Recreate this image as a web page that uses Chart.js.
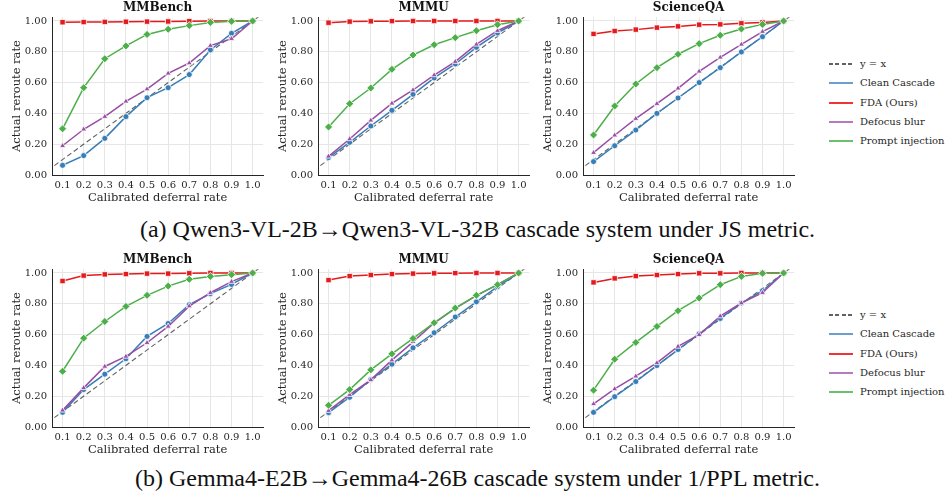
<!DOCTYPE html>
<html>
<head>
<meta charset="utf-8">
<script src="https://cdn.jsdelivr.net/npm/chart.js@4.4.1/dist/chart.umd.min.js"></script>
<style>
  html, body { margin: 0; padding: 0; background: #fff; }
  body { width: 946px; height: 496px; position: relative; overflow: hidden; }
  canvas.panel { position: absolute; }
  .caption { position: absolute; left: 0; width: 955px; text-align: center;
             font-family: "Liberation Serif", "Times New Roman", serif; font-size: 24px; color: #111; white-space: nowrap; }
  .legend { position: absolute; left: 829px; font-family: "DejaVu Serif", serif; font-size: 10px; color: #262626; }
  .legend .item { position: absolute; left: 0; height: 14px; white-space: nowrap; }
  .legend .swatch { position: absolute; left: 0; top: 6px; width: 24px; height: 2px; }
  .legend .label { position: absolute; left: 31px; top: 0; line-height: 14px; }
</style>
</head>
<body>
<script>
// ---------------- data ----------------
const deferralRates = [0.1, 0.2, 0.3, 0.4, 0.5, 0.6, 0.7, 0.8, 0.9, 1.0];
const yTickValues = [0.0, 0.2, 0.4, 0.6, 0.8, 1.0];
const panelTitles = ['MMBench', 'MMMU', 'ScienceQA'];
const seriesNames = ['Clean Cascade', 'FDA (Ours)', 'Defocus blur', 'Prompt injection'];
const refLineName = 'y = x';
const xAxisTitle = 'Calibrated deferral rate';
const yAxisTitle = 'Actual reroute rate';
const captions = [
  '(a) Qwen3-VL-2B\u2192Qwen3-VL-32B cascade system under JS metric.',
  '(b) Gemma4-E2B\u2192Gemma4-26B cascade system under 1/PPL metric.'
];

// (a) Qwen3-VL-2B -> Qwen3-VL-32B, JS metric
const qwenMMBenchClean   = [0.063, 0.126, 0.238, 0.379, 0.502, 0.567, 0.652, 0.812, 0.920, 1.000];
const qwenMMBenchFDA     = [0.992, 0.993, 0.994, 0.995, 0.996, 0.997, 0.999, 1.000, 1.000, 1.000];
const qwenMMBenchDefocus = [0.190, 0.297, 0.379, 0.478, 0.558, 0.660, 0.727, 0.840, 0.885, 1.000];
const qwenMMBenchPrompt  = [0.300, 0.567, 0.755, 0.838, 0.913, 0.946, 0.970, 0.991, 0.998, 1.000];

const qwenMMMUClean   = [0.113, 0.212, 0.318, 0.420, 0.524, 0.630, 0.721, 0.829, 0.922, 1.000];
const qwenMMMUFDA     = [0.989, 0.996, 0.998, 0.999, 1.000, 1.000, 1.000, 1.000, 1.000, 1.000];
const qwenMMMUDefocus = [0.121, 0.234, 0.355, 0.465, 0.552, 0.649, 0.736, 0.848, 0.937, 1.000];
const qwenMMMUPrompt  = [0.312, 0.463, 0.565, 0.686, 0.779, 0.846, 0.892, 0.937, 0.976, 1.000];

const qwenSQAClean   = [0.087, 0.190, 0.292, 0.400, 0.500, 0.600, 0.697, 0.799, 0.898, 1.000];
const qwenSQAFDA     = [0.916, 0.935, 0.944, 0.957, 0.965, 0.976, 0.978, 0.985, 0.991, 1.000];
const qwenSQADefocus = [0.145, 0.258, 0.366, 0.463, 0.563, 0.673, 0.764, 0.848, 0.931, 1.000];
const qwenSQAPrompt  = [0.260, 0.448, 0.591, 0.697, 0.784, 0.853, 0.907, 0.948, 0.978, 1.000];

// (b) Gemma4-E2B -> Gemma4-26B, 1/PPL metric
const gemmaMMBenchClean   = [0.095, 0.243, 0.343, 0.443, 0.588, 0.672, 0.794, 0.866, 0.926, 1.000];
const gemmaMMBenchFDA     = [0.948, 0.983, 0.991, 0.993, 0.996, 0.996, 0.998, 1.000, 1.000, 1.000];
const gemmaMMBenchDefocus = [0.108, 0.254, 0.393, 0.458, 0.547, 0.653, 0.785, 0.872, 0.944, 1.000];
const gemmaMMBenchPrompt  = [0.362, 0.577, 0.685, 0.783, 0.855, 0.915, 0.959, 0.978, 0.989, 1.000];

const gemmaMMMUClean   = [0.093, 0.193, 0.308, 0.408, 0.514, 0.612, 0.714, 0.813, 0.911, 1.000];
const gemmaMMMUFDA     = [0.954, 0.980, 0.987, 0.993, 0.996, 0.998, 0.999, 1.000, 1.000, 1.000];
const gemmaMMMUDefocus = [0.106, 0.210, 0.306, 0.434, 0.553, 0.675, 0.770, 0.853, 0.924, 1.000];
const gemmaMMMUPrompt  = [0.141, 0.243, 0.371, 0.475, 0.575, 0.677, 0.772, 0.855, 0.924, 1.000];

const gemmaSQAClean   = [0.095, 0.197, 0.295, 0.399, 0.503, 0.605, 0.705, 0.805, 0.885, 1.000];
const gemmaSQAFDA     = [0.939, 0.965, 0.980, 0.987, 0.993, 0.998, 0.998, 1.000, 1.000, 1.000];
const gemmaSQADefocus = [0.150, 0.247, 0.330, 0.416, 0.523, 0.599, 0.720, 0.805, 0.872, 1.000];
const gemmaSQAPrompt  = [0.239, 0.440, 0.549, 0.653, 0.755, 0.837, 0.924, 0.978, 0.998, 1.000];

const panelSeries = [
  [qwenMMBenchClean, qwenMMBenchFDA, qwenMMBenchDefocus, qwenMMBenchPrompt],
  [qwenMMMUClean, qwenMMMUFDA, qwenMMMUDefocus, qwenMMMUPrompt],
  [qwenSQAClean, qwenSQAFDA, qwenSQADefocus, qwenSQAPrompt],
  [gemmaMMBenchClean, gemmaMMBenchFDA, gemmaMMBenchDefocus, gemmaMMBenchPrompt],
  [gemmaMMMUClean, gemmaMMMUFDA, gemmaMMMUDefocus, gemmaMMMUPrompt],
  [gemmaSQAClean, gemmaSQAFDA, gemmaSQADefocus, gemmaSQAPrompt]
];

// ---------------- styles / layout ----------------
const seriesColors = ['#377eb8', '#e41a1c', '#984ea3', '#4daf4a'];
const legendColors = ['#6a9fd0', '#ee3434', '#b27cbf', '#6cc06a'];
const seriesMarkers = ['circle', 'rect', 'triangle', 'rectRot'];
const seriesRadius = [3, 3.8, 3.4, 4];
const FONT = 'DejaVu Serif';
const TEXT = '#262626';

const colCanvasLeft = [0, 265.5, 530.7];
const colAreaRight  = [264.6, 529.0, 794.6];
const rowCanvasTop  = [0, 252];
const canvasW = 268, canvasH = 205;
const yAxisW = 52, xAxisH = 30;

function makePanel(idx) {
  const row = Math.floor(idx / 3), col = idx % 3;
  const cv = document.createElement('canvas');
  cv.className = 'panel';
  cv.width = canvasW; cv.height = canvasH;
  cv.style.left = colCanvasLeft[col] + 'px';
  cv.style.top = rowCanvasTop[row] + 'px';
  cv.style.width = canvasW + 'px'; cv.style.height = canvasH + 'px';
  document.body.appendChild(cv);
  const rightPad = colCanvasLeft[col] + canvasW - colAreaRight[col];

  const datasets = [];
  const vals = panelSeries[idx];
  for (let s = seriesNames.length - 1; s >= 0; s--) {
    datasets.push({
      label: seriesNames[s],
      data: deferralRates.map((x, i) => ({ x: x, y: vals[s][i] })),
      borderColor: seriesColors[s],
      backgroundColor: seriesColors[s],
      pointBackgroundColor: seriesColors[s],
      pointBorderColor: '#ffffff',
      pointBorderWidth: 0.8,
      pointStyle: seriesMarkers[s],
      pointRadius: seriesRadius[s],
      borderWidth: 1.5,
      tension: 0,
      fill: false
    });
  }
  datasets.push({
    label: refLineName,
    data: [{ x: 0, y: 0 }, { x: 1.05, y: 1.05 }],
    borderColor: 'rgba(70,70,70,0.85)',
    borderDash: [5, 3],
    borderWidth: 1.1,
    pointRadius: 0,
    fill: false,
    clip: 0
  });

  const tickFont = { family: FONT, size: 10 };
  new Chart(cv, {
    type: 'line',
    data: { datasets },
    options: {
      responsive: false,
      animation: false,
      devicePixelRatio: 1,
      layout: { padding: { left: 0, right: rightPad, top: 0, bottom: 0 } },
      plugins: {
        legend: { display: false },
        tooltip: { enabled: false },
        title: {
          display: true, fullSize: false, text: panelTitles[col], color: '#111',
          font: { family: FONT, size: 12, weight: 'bold', lineHeight: 1.2 },
          padding: { top: 0.5, bottom: 2.25 }
        }
      },
      scales: {
        x: {
          type: 'linear', min: 0.05, max: 1.05,
          afterBuildTicks: s => { s.ticks = deferralRates.map(v => ({ value: v })); },
          afterFit: s => { s.height = xAxisH; },
          ticks: { callback: v => v.toFixed(1), font: tickFont, color: TEXT, padding: 4, maxRotation: 0, autoSkip: false },
          grid: { color: '#e6e6e6', lineWidth: 1, drawTicks: false },
          border: { display: true, color: '#262626', width: 1 },
          title: { display: true, text: xAxisTitle, color: TEXT, font: { family: FONT, size: 11.5, lineHeight: 1.2 }, padding: { top: 0, bottom: 0 } }
        },
        y: {
          type: 'linear', min: 0, max: 1.025,
          afterBuildTicks: s => { s.ticks = yTickValues.map(v => ({ value: v })); },
          afterFit: s => { s.width = yAxisW; },
          ticks: { callback: v => v.toFixed(2), font: tickFont, color: TEXT, padding: 5 },
          grid: { color: '#e6e6e6', lineWidth: 1, drawTicks: false },
          border: { display: true, color: '#262626', width: 1 },
          title: { display: true, text: yAxisTitle, color: TEXT, font: { family: FONT, size: 11.5, lineHeight: 1.2 }, padding: { top: 10, bottom: 0 } }
        }
      }
    }
  });
}
for (let i = 0; i < 6; i++) makePanel(i);

// ---------------- legends ----------------
const legendRowTops = [57, 308];
const legendSpacing = 19.3;
legendRowTops.forEach(top => {
  const lg = document.createElement('div');
  lg.className = 'legend';
  lg.style.top = top + 'px';
  const names = [refLineName].concat(seriesNames);
  names.forEach((name, k) => {
    const it = document.createElement('div');
    it.className = 'item';
    it.style.top = Math.round(k * legendSpacing) + 'px';
    const sw = document.createElement('div');
    sw.className = 'swatch';
    if (k === 0) {
      sw.style.background = 'repeating-linear-gradient(to right, rgba(70,70,70,0.85) 0 4px, transparent 4px 6.5px)';
      sw.style.height = '1.5px';
    } else {
      sw.style.background = legendColors[k - 1];
    }
    const lb = document.createElement('div');
    lb.className = 'label';
    lb.textContent = name;
    it.appendChild(sw); it.appendChild(lb);
    lg.appendChild(it);
  });
  document.body.appendChild(lg);
});

// ---------------- captions ----------------
const captionTops = [216, 465];
captions.forEach((t, k) => {
  const d = document.createElement('div');
  d.className = 'caption';
  d.style.top = captionTops[k] + 'px';
  d.textContent = t;
  document.body.appendChild(d);
});
</script>
</body>
</html>
